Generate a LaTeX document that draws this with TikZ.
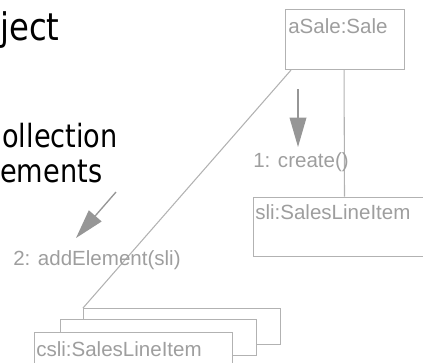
\documentclass[tikz,border=0pt]{standalone}
\usepackage{fontspec}
\setmainfont{Liberation Sans}
\newfontfamily\slidefont[FakeStretch=0.85]{DejaVu Sans}
\usepackage{tikz}
\usetikzlibrary{arrows.meta}
\usetikzlibrary{positioning}
\usetikzlibrary{calc}
\definecolor{linegray}{RGB}{178,178,178}
\definecolor{textgray}{RGB}{158,158,158}
\definecolor{headgray}{RGB}{150,150,150}
\tikzset{
	objbox/.style={draw=linegray, fill=white, line width=0.8pt, inner sep=0pt, anchor=north west},
	objname/.style={text=textgray, font=\fontsize{15.4}{18}\selectfont, inner sep=0pt, anchor=base west},
	msglabel/.style={text=textgray, font=\fontsize{15.4}{18}\selectfont, inner sep=0pt, anchor=base west},
	link/.style={draw=linegray, line width=0.8pt},
	msgarrow/.style={draw=headgray, line width=1pt,
		-{Triangle[length=22pt, width=12.5pt, fill=headgray]}},
	slidetext/.style={font=\slidefont, inner sep=0pt, anchor=base west},
}

\begin{document}
\begin{tikzpicture}[x=0.75pt,y=-0.75pt]
\useasboundingbox (0,0) rectangle (423,362);

% slide text, cut by the page
\node at (0,40) [slidetext, font=\slidefont\fontsize{28.5}{34}\selectfont] (title) {ject};
\node at (2,147) [slidetext, font=\slidefont\fontsize{24}{29}\selectfont] (bulleta) {ollection};
\node at (0,182) [slidetext, font=\slidefont\fontsize{24}{29}\selectfont] (bulletb) {ements};

% objects
\node at (285,9) [objbox, minimum width=89.25pt, minimum height=45pt] (aSale) {};
\node at ($(aSale.north west)+(3,24)$) [objname] (aSaleName) {aSale:Sale};

\node at (252.5,196.5) [objbox, minimum width=127.6pt, minimum height=44.25pt] (sli) {};
\node at ($(sli.north west)+(2.5,22.5)$) [objname] (sliName) {sli:SalesLineItem};

% multiobject csli
\node at (83,308) [objbox, minimum width=147.75pt, minimum height=27pt] (csliback) {};
\node at (60,319) [objbox, minimum width=147pt, minimum height=27pt] (cslimid) {};
\node at (34,332) [objbox, minimum width=148.5pt, minimum height=27pt] (csli) {};
\node at ($(csli.north west)+(2,24)$) [objname] (csliName) {csli:SalesLineItem};

% links
\draw [link] ($(aSale.south)+(-1,0)$) -- ($(sli.north west)+(92,0)$);
\draw [link] ($(aSale.south west)+(6,0)$) -- (csliback.north west);

% messages
\coordinate (createtail) at (298,89);
\coordinate (createtip) at (298,147);
\draw [msgarrow] (createtail) -- (createtip);
\node at (253,167) [msglabel] (createlabel) {1: create()};

\coordinate (addtail) at (116,192);
\coordinate (addtip) at (76,238);
\draw [msgarrow] (addtail) -- (addtip);
\node at (13,265) [msglabel] (addlabel) {2: addElement(sli)};

\end{tikzpicture}
\end{document}
